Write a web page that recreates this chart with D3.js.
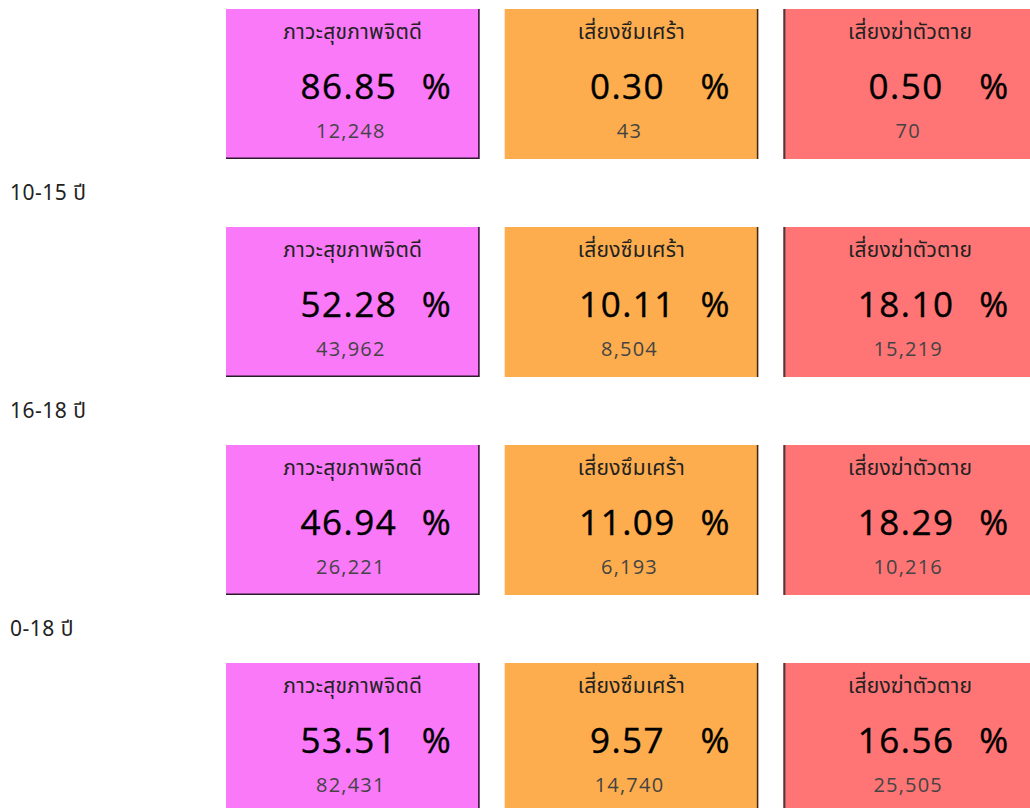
<!DOCTYPE html>
<html>
<head>
<meta charset="utf-8">
<script src="https://cdn.jsdelivr.net/npm/d3@7"></script>
<style>
  html, body { margin: 0; padding: 0; background: #fff; }
  svg { display: block; }
</style>
</head>
<body>
<svg id="chart" width="1030" height="808"></svg>
<script>
// ---- data ----
const ageGroups = ["0-9 ปี", "10-15 ปี", "16-18 ปี", "0-18 ปี"];
const categories = ["ภาวะสุขภาพจิตดี", "เสี่ยงซึมเศร้า", "เสี่ยงฆ่าตัวตาย"];
const percentGood = [86.85, 52.28, 46.94, 53.51];
const percentDepression = [0.30, 10.11, 11.09, 9.57];
const percentSuicide = [0.50, 18.10, 18.29, 16.56];
const countGood = [12248, 43962, 26221, 82431];
const countDepression = [43, 8504, 6193, 14740];
const countSuicide = [70, 15219, 10216, 25505];
const categoryColors = ["#F979F9", "#FDAD4D", "#FF7474"];

// ---- build table ----
const percents = [percentGood, percentDepression, percentSuicide];
const counts = [countGood, countDepression, countSuicide];
const cells = [];
ageGroups.forEach((g, r) => {
  categories.forEach((c, k) => {
    cells.push({ group: g, category: c, pct: percents[k][r], count: counts[k][r], k });
  });
});

const svg = d3.select("#chart");
const x = d3.scaleBand().domain(categories).range([226, 1037]).paddingInner(0.09);
const y = d3.scaleBand().domain(ageGroups).range([9, 9 + 218 * 4]).paddingInner(0);
const color = d3.scaleOrdinal().domain(categories).range(categoryColors);
const cardH = 150;
const thaiFont = "'Noto Sans Thai', 'Leelawadee UI', Tahoma, 'Noto Sans', 'DejaVu Sans', sans-serif";
const numFont = "'Open Sans', 'Noto Sans', sans-serif";
const fmt = d3.format(",");
const pfmt = d3.format(".2f");

// row labels (the first row's label lies above the visible area)
svg.selectAll("text.rowlabel").data(ageGroups.filter(d => y(d) - 26 > 20)).join("text")
  .attr("class", "rowlabel")
  .attr("x", 10)
  .attr("y", d => y(d) - 27)
  .attr("font-family", thaiFont)
  .attr("font-size", 21)
  .attr("letter-spacing", 0.5)
  .attr("fill", "#222")
  .text(d => d);

const card = svg.selectAll("g.card").data(cells).join("g")
  .attr("class", "card")
  .attr("transform", d => `translate(${x(d.category)},${y(d.group)})`);

card.append("rect")
  .attr("width", x.bandwidth())
  .attr("height", cardH)
  .attr("fill", d => color(d.category));

// borders: pink -> right & bottom, orange -> right, red -> left
card.filter(d => d.k === 0).append("path")
  .attr("d", `M${x.bandwidth() - 0.75},0 V${cardH - 0.75} H0`)
  .attr("fill", "none").attr("stroke", "#2a1a2a").attr("stroke-width", 1.5);
card.filter(d => d.k === 1).append("line")
  .attr("x1", x.bandwidth() - 0.75).attr("x2", x.bandwidth() - 0.75)
  .attr("y1", 0).attr("y2", cardH)
  .attr("stroke", "#3a2a1a").attr("stroke-width", 1.5);
card.filter(d => d.k === 2).append("line")
  .attr("x1", 1).attr("x2", 1)
  .attr("y1", 0).attr("y2", cardH)
  .attr("stroke", "#4a3a3a").attr("stroke-width", 2);

const cx = x.bandwidth() / 2;

card.append("text")
  .attr("x", cx)
  .attr("y", 30)
  .attr("text-anchor", "middle")
  .attr("font-family", thaiFont)
  .attr("font-size", 21)
  .attr("letter-spacing", 0.3)
  .attr("fill", "#222")
  .text(d => d.category);

card.append("text")
  .attr("x", cx - 4)
  .attr("y", 90)
  .attr("text-anchor", "middle")
  .attr("font-family", numFont)
  .attr("font-size", 35)
  .attr("letter-spacing", 1.5)
  .attr("fill", "#000")
  .attr("stroke", "#000")
  .attr("stroke-width", 0.4)
  .text(d => pfmt(d.pct));

card.append("text")
  .attr("x", cx + 69)
  .attr("y", 90)
  .attr("text-anchor", "start")
  .attr("font-family", numFont)
  .attr("font-size", 35)
  .attr("fill", "#000")
  .attr("stroke", "#000")
  .attr("stroke-width", 0.4)
  .text("%");

card.append("text")
  .attr("x", cx - 2)
  .attr("y", 129)
  .attr("text-anchor", "middle")
  .attr("font-family", numFont)
  .attr("font-size", 20)
  .attr("letter-spacing", 1.2)
  .attr("fill", "#444")
  .text(d => fmt(d.count));
</script>
</body>
</html>
